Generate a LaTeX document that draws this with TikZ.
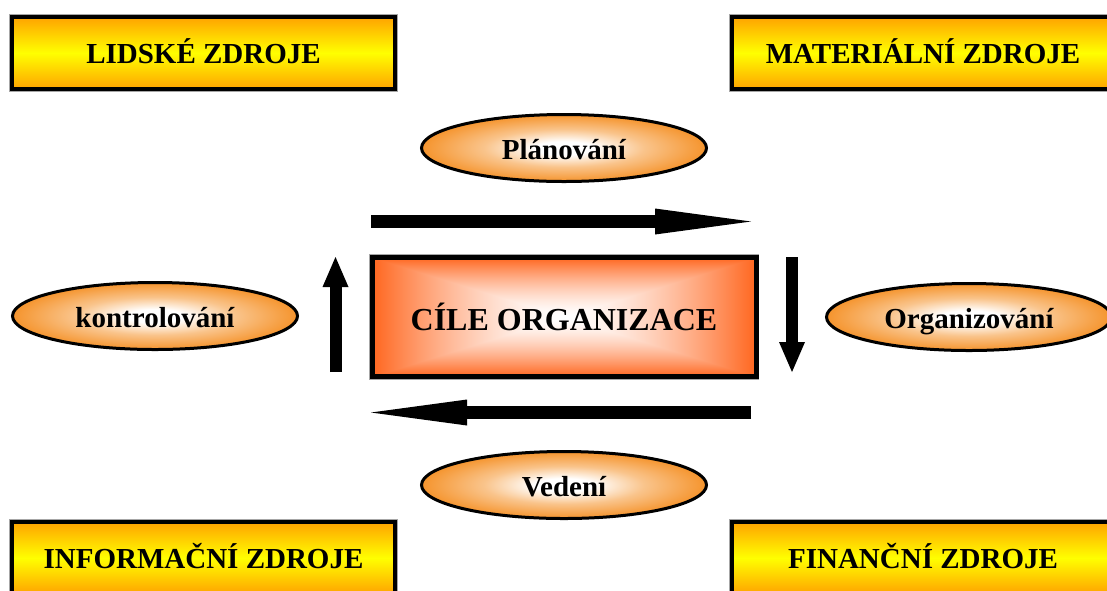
\documentclass[tikz,border=0pt]{standalone}
\usepackage{fontspec}
\setmainfont{Liberation Serif}
\usetikzlibrary{shapes.geometric,arrows.meta}

\definecolor{resorange}{RGB}{255,163,0}
\definecolor{resyellow}{RGB}{255,255,0}
\definecolor{ellorange}{RGB}{245,148,45}

% soft white centre fading to orange towards the ellipse rim
% (a shaded path's bounding box covers the central 50bp of the shading)
\pgfdeclareradialshading{ellglow}{\pgfpoint{0bp}{0bp}}{%
  color(0bp)=(white); color(5bp)=(white); color(14bp)=(ellorange!55!white);
  color(25bp)=(ellorange); color(50bp)=(ellorange)}

% rectangular glow: white in the middle, orange-red at the edges
\pgfdeclarefunctionalshading{goalglow}{\pgfpoint{-50bp}{-50bp}}{\pgfpoint{50bp}{50bp}}{}{%
  abs exch abs 2 copy lt {exch} if pop 25 div
  dup 1 gt {pop 1} if
  dup sqrt mul
  dup 0.6 mul 1 exch sub exch 0.88 mul 1 exch sub 1 3 1 roll}

\tikzset{
  x=1pt, y=-1pt,
  boldtext/.style={font=\fontsize{29}{29}\selectfont\bfseries, text height=24pt, text depth=4pt},
  resbox/.style={rectangle, inner sep=0pt, minimum width=383pt, minimum height=72pt,
    draw=black, line width=4pt, preaction={draw=black!35, line width=5.5pt},
    top color=resorange, bottom color=resorange, middle color=resyellow, boldtext},
  goalbox/.style={rectangle, inner sep=0pt, minimum width=384pt, minimum height=119pt,
    draw=black, line width=5pt, preaction={draw=black!35, line width=6.5pt},
    shading=goalglow, font=\fontsize{32}{32}\selectfont\bfseries,
    text height=30pt, text depth=3pt},
  activity/.style={ellipse, inner sep=0pt, minimum width=285pt, minimum height=67pt,
    draw=black, line width=3pt, shading=ellglow, boldtext, text height=26pt},
  hflow/.style={line width=13pt, -{Triangle[length=96pt, width=26pt, line width=0pt]}},
  vflow/.style={line width=12pt, -{Triangle[length=30pt, width=26pt, line width=0pt]}},
}

\begin{document}
\begin{tikzpicture}
  \useasboundingbox (0,0) rectangle (1107,590);
  \clip (0,0) rectangle (1107,590);

  % resources in the corners
  \node[resbox] (lidske)   at (203.5,53)  {LIDSKÉ ZDROJE};
  \node[resbox] (material) at (923,53)    {MATERIÁLNÍ ZDROJE};
  \node[resbox] (inform)   at (203.5,558) {INFORMAČNÍ ZDROJE};
  \node[resbox] (financ)   at (923,558)   {FINANČNÍ ZDROJE};

  % goals of the organisation
  \node[goalbox] (cile) at (564,317) {CÍLE ORGANIZACE};

  % management functions
  \node[activity] (plan)  at (564,148) {Plánování};
  \node[activity] (org)   at (969,317) {Organizování};
  \node[activity] (vede)  at (564,485) {Vedení};
  \node[activity] (kontr) at (155,316) {kontrolování};

  % management cycle around the goals
  \coordinate (tl) at (371,221.5);
  \coordinate (tr) at (751,221.5);
  \coordinate (rt) at (792,257);
  \coordinate (rb) at (792,372);
  \coordinate (br) at (751,412.5);
  \coordinate (bl) at (371,412.5);
  \coordinate (lb) at (335.5,372);
  \coordinate (lt) at (335.5,257);

  \draw[hflow] (tl) -- (tr);
  \draw[vflow] (rt) -- (rb);
  \draw[hflow] (br) -- (bl);
  \draw[vflow] (lb) -- (lt);
\end{tikzpicture}
\end{document}
